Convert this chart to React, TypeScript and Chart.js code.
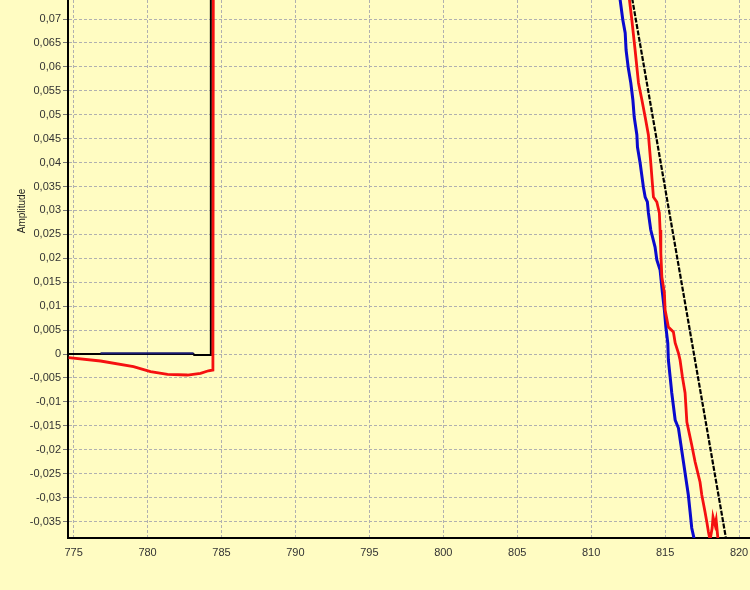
import React, { useEffect, useRef } from "react";
import { Chart, registerables } from "chart.js";

Chart.register(...registerables);

// Axis ranges
const X_MIN = 774.62;
const X_MAX = 820.74;
const Y_MIN = -0.03845;
const Y_MAX = 0.07398;

// Black (reference) series: flat, jump, then linear ramp down
const blackX = [774.62, 783.11, 783.15, 784.28, 784.28, 812.32, 819.37];
const blackY = [0, 0, -0.0002, -0.0002, 0.09, 0.08234, -0.04305];

// Blue series: flat part, gap, descending noisy part
const blueX = [
  776.82, 783.11, 783.2,
  811.69, 811.96, 812.14, 812.3, 812.36, 812.5, 812.68, 812.82, 812.91, 813.09,
  813.13, 813.31, 813.53, 813.65, 813.8, 813.87, 814.03, 814.32, 814.44, 814.66,
  814.82, 814.95, 815.05, 815.18, 815.22, 815.34, 815.45, 815.68, 815.9, 816.24,
  816.47, 816.57, 816.69, 816.8, 816.98, 817.09,
];
const blueY = [
  0.00015, 0.00015, null,
  0.07816, 0.07398, 0.0698, 0.06708, 0.06353, 0.05998, 0.05664, 0.05308, 0.04953, 0.04577,
  0.04326, 0.03992, 0.0349, 0.03281, 0.03177, 0.02947, 0.02591, 0.02236, 0.01964, 0.01755,
  0.01275, 0.0092, 0.00564, 0.0023, -0.00125, -0.00481, -0.00815, -0.01379, -0.01547, -0.02257,
  -0.02738, -0.02947, -0.03302, -0.03636, -0.03887, -0.04096,
];

// Red series: sagging flat part, jump, then noisy descending part
const redX = [
  774.66, 776.82, 779.05, 780.2, 781.35, 782.7, 783.58, 784.12, 784.42, 784.45,
  812.3, 812.59, 812.75, 812.97, 813.2, 813.43, 813.65, 813.87, 814.03, 814.21,
  814.44, 814.61, 814.66, 814.71, 814.78, 814.95, 815.0, 815.22, 815.56, 815.68,
  815.9, 816.01, 816.17, 816.35, 816.47, 816.8, 817.03, 817.36, 817.48, 817.7,
  817.82, 817.93, 818.04, 818.18, 818.24, 818.38, 818.45, 818.58, 818.65,
];
const redY = [
  -0.00077, -0.00146, -0.00265, -0.0037, -0.00425, -0.00439, -0.00404, -0.0035, -0.00334, 0.09,
  0.07816, 0.07398, 0.0698, 0.06353, 0.05664, 0.05308, 0.04953, 0.04577, 0.03992, 0.03281,
  0.03177, 0.02947, 0.02591, 0.02111, 0.01609, 0.01275, 0.0092, 0.00564, 0.0046, 0.0023,
  0.00021, -0.00125, -0.00481, -0.00815, -0.01421, -0.01902, -0.02257, -0.02675, -0.02947, -0.03302,
  -0.03511, -0.0372, -0.03887, -0.03636, -0.03406, -0.03574, -0.03469, -0.03887, -0.04096,
];

const yLabel = "Amplitude";

const toPts = (xs: number[], ys: (number | null)[]) => xs.map((x, i) => ({ x, y: ys[i] }));

const fmtY = (v: number) => {
  const n = Number(v.toFixed(3));
  if (Math.abs(n) < 1e-9) return "0";
  return String(n).replace(".", ",");
};

const axisTitlePlugin = {
  id: "axisTitle",
  afterDraw(chart: any) {
    const ctx = chart.ctx;
    ctx.save();
    ctx.translate(22, 211);
    ctx.rotate(-Math.PI / 2);
    ctx.font = "10px Arial, 'Liberation Sans', sans-serif";
    ctx.fillStyle = "#222";
    ctx.textAlign = "center";
    ctx.textBaseline = "middle";
    ctx.fillText(yLabel, 0, 0);
    ctx.restore();
  },
};

export default function App() {
  const ref = useRef<HTMLCanvasElement>(null);
  useEffect(() => {
    if (!ref.current) return;
    const font = { family: "Arial, 'Liberation Sans', sans-serif", size: 11 };
    const chart = new Chart(ref.current, {
      type: "line",
      data: {
        datasets: [
          {
            data: toPts(redX, redY),
            borderColor: "#F51010",
            borderWidth: 2.8,
            pointRadius: 0,
            tension: 0,
          },
          {
            data: toPts(blueX, blueY),
            borderColor: "#0A0ACD",
            borderWidth: 3,
            pointRadius: 0,
            tension: 0,
            spanGaps: false,
            segment: {
              borderColor: (c: any) => (c.p0.parsed.x < 790 ? "#1A1A70" : undefined),
              borderWidth: (c: any) => (c.p0.parsed.x < 790 ? 2 : undefined),
            },
          },
          {
            data: toPts(blackX, blackY),
            borderColor: "#000000",
            borderWidth: 2,
            pointRadius: 0,
            tension: 0,
            segment: {
              borderDash: (c: any) => (c.p0.parsed.x > 800 ? [5, 1.5] : undefined),
              borderWidth: (c: any) => (c.p0.parsed.x > 800 ? 2.2 : undefined),
            },
          },
        ],
      },
      options: {
        animation: false,
        responsive: false,
        devicePixelRatio: 1,
        parsing: true,
        layout: { padding: 0 },
        plugins: { legend: { display: false }, tooltip: { enabled: false } },
        scales: {
          x: {
            type: "linear",
            min: X_MIN,
            max: X_MAX,
            afterFit: (s: any) => {
              s.height = 52;
              s.paddingLeft = 0;
              s.paddingRight = 0;
            },
            ticks: {
              stepSize: 5,
              includeBounds: false,
              font,
              color: "#333",
              padding: 8,
              maxRotation: 0,
              autoSkip: false,
              callback: (v: any) => String(Math.round(Number(v))),
            },
            grid: {
              color: "#B0B0B0",
              lineWidth: 1,
              drawTicks: false,
            },
            border: { color: "#000", width: 2, dash: [3, 2] },
          },
          y: {
            type: "linear",
            min: Y_MIN,
            max: Y_MAX,
            afterFit: (s: any) => {
              s.width = 68;
              s.paddingTop = 0;
              s.paddingBottom = 0;
            },
            ticks: {
              stepSize: 0.005,
              includeBounds: false,
              font,
              color: "#333",
              padding: 2,
              autoSkip: false,
              callback: (v: any) => fmtY(Number(v)),
            },
            grid: {
              color: "#B0B0B0",
              lineWidth: 1,
              drawTicks: true,
              tickLength: 5,
              tickColor: "#777",
              tickBorderDash: [],
            },
            border: { color: "#000", width: 2, dash: [3, 2] },
          },
        },
      },
      plugins: [axisTitlePlugin],
    });
    return () => chart.destroy();
  }, []);

  return (
    <div
      style={{
        position: "fixed",
        left: 0,
        top: 0,
        width: 750,
        height: 590,
        background: "#FFFCC2",
        overflow: "hidden",
      }}
    >
      <canvas ref={ref} width={750} height={590} style={{ width: 750, height: 590, display: "block" }} />
    </div>
  );
}
